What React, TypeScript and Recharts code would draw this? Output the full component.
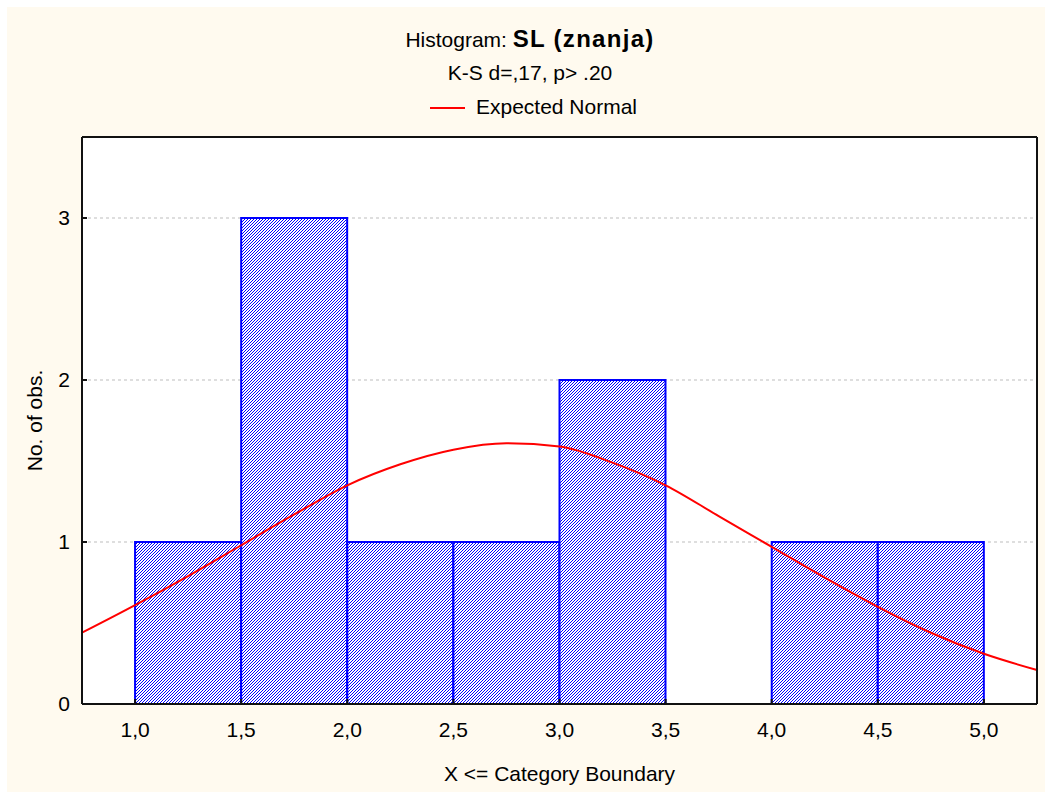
import React from 'react';
import { ComposedChart, Bar, Line, XAxis, YAxis, CartesianGrid } from 'recharts';

// histogram bins: boundaries and counts
const binEdges = [1.0, 1.5, 2.0, 2.5, 3.0, 3.5, 4.0, 4.5, 5.0];
const binCounts = [1, 3, 1, 1, 2, 0, 1, 1];

// expected normal curve
const normalX = [0.75, 1.0, 1.25, 1.5, 1.75, 2.0, 2.25, 2.5, 2.75, 3.0, 3.25, 3.5, 3.75, 4.0, 4.25, 4.5, 4.75, 5.0, 5.25];
const normalY = [0.44, 0.61, 0.79, 0.98, 1.17, 1.35, 1.48, 1.57, 1.61, 1.59, 1.49, 1.35, 1.16, 0.97, 0.78, 0.6, 0.44, 0.31, 0.21];

const xTicks = [1.0, 1.5, 2.0, 2.5, 3.0, 3.5, 4.0, 4.5, 5.0];
const yTicks = [0, 1, 2, 3];
const xDomain = [0.75, 5.25];
const yDomain = [0, 3.5];

const FONT = '"Liberation Sans", Arial, sans-serif';

const bins = binCounts.map((count, i) => ({
  mid: (binEdges[i] + binEdges[i + 1]) / 2,
  count,
}));
const curve = normalX.map((x, i) => ({ x, y: normalY[i] }));

const fmt = (v: number) => v.toFixed(1).replace('.', ',');
const tickStyle = { fill: '#000', fontSize: 21, fontFamily: FONT };

export default function App() {
  return (
    <div
      style={{
        position: 'absolute',
        left: 7,
        top: 7,
        width: 1038,
        height: 785,
        background: '#FFFAEF',
        fontFamily: FONT,
        color: '#000',
      }}
    >
      <div style={{ position: 'absolute', left: 0, top: 18, width: 1038, paddingLeft: 8, boxSizing: 'border-box', textAlign: 'center', lineHeight: '28px', fontSize: 21 }}>
        Histogram: <span style={{ fontWeight: 'bold', fontSize: 24, letterSpacing: 1.3 }}>SL (znanja)</span>
      </div>
      <div style={{ position: 'absolute', left: 0, top: 52, width: 1038, paddingLeft: 8, boxSizing: 'border-box', textAlign: 'center', lineHeight: '28px', fontSize: 21 }}>
        K-S d=,17, p&gt; .20
      </div>
      <div style={{ position: 'absolute', left: 0, top: 86, width: 1038, paddingLeft: 15, boxSizing: 'border-box', textAlign: 'center', lineHeight: '28px', fontSize: 21 }}>
        <svg width={35} height={4} style={{ marginRight: 11, verticalAlign: 'middle' }}>
          <line x1={0} y1={2} x2={35} y2={2} stroke="#FF0000" strokeWidth={2} />
        </svg>
        Expected Normal
      </div>

      <div style={{ position: 'absolute', left: 0, top: 0 }}>
        <ComposedChart
          width={1038}
          height={785}
          data={bins}
          margin={{ top: 130, right: 8, left: 0, bottom: 0 }}
          barCategoryGap={0}
          barGap={0}
        >
          <defs>
            <pattern id="hatch" patternUnits="userSpaceOnUse" width={3} height={3}>
              <rect width={3} height={3} fill="#fff" />
              <rect x={0} y={2} width={1} height={1} fill="#0000FF" />
              <rect x={1} y={1} width={1} height={1} fill="#0000FF" />
              <rect x={2} y={0} width={1} height={1} fill="#0000FF" />
            </pattern>
          </defs>
          <CartesianGrid
            vertical={false}
            stroke="#BDBDBD"
            strokeDasharray="3 3"
            fill="#fff"
            fillOpacity={1}
          />
          <XAxis
            dataKey="mid"
            type="number"
            domain={xDomain}
            ticks={xTicks}
            tickFormatter={fmt}
            height={88}
            tick={tickStyle}
            tickSize={-5}
            tickMargin={23}
            axisLine={{ stroke: '#111', strokeWidth: 2 }}
            tickLine={{ stroke: '#111', strokeWidth: 2 }}
            label={{
              content: ({ viewBox }: any) => (
                <text
                  x={viewBox.x + viewBox.width / 2}
                  y={viewBox.y + 69}
                  textAnchor="middle"
                  dominantBaseline="central"
                  fontSize={21}
                  fontFamily={FONT}
                  fill="#000"
                >
                  X &lt;= Category Boundary
                </text>
              ),
            }}
          />
          <XAxis
            xAxisId="top"
            dataKey="x"
            type="number"
            orientation="top"
            mirror
            domain={xDomain}
            ticks={xTicks}
            tick={false}
            tickSize={5}
            axisLine={{ stroke: '#111', strokeWidth: 2 }}
            tickLine={{ stroke: '#111', strokeWidth: 2 }}
          />
          <YAxis
            type="number"
            domain={yDomain}
            ticks={yTicks}
            width={75}
            tick={tickStyle}
            tickSize={-5}
            tickMargin={17}
            axisLine={{ stroke: '#111', strokeWidth: 2 }}
            tickLine={{ stroke: '#111', strokeWidth: 2 }}
            label={{
              content: ({ viewBox }: any) => {
                const cx = viewBox.x + 27;
                const cy = viewBox.y + viewBox.height / 2;
                return (
                  <text
                    x={cx}
                    y={cy}
                    transform={`rotate(-90, ${cx}, ${cy})`}
                    textAnchor="middle"
                    dominantBaseline="central"
                    fontSize={21}
                    fontFamily={FONT}
                    fill="#000"
                  >
                    No. of obs.
                  </text>
                );
              },
            }}
          />
          <YAxis
            yAxisId="right"
            type="number"
            orientation="right"
            mirror
            domain={yDomain}
            ticks={yTicks}
            tick={false}
            tickSize={5}
            axisLine={{ stroke: '#111', strokeWidth: 2 }}
            tickLine={{ stroke: '#111', strokeWidth: 2 }}
          />
          <Bar
            dataKey="count"
            fill="url(#hatch)"
            stroke="#0000FF"
            strokeWidth={2}
            isAnimationActive={false}
          />
          <Line
            xAxisId="top"
            data={curve}
            dataKey="y"
            type="monotone"
            stroke="#FF0000"
            strokeWidth={2}
            dot={false}
            activeDot={false}
            isAnimationActive={false}
          />
        </ComposedChart>
      </div>
    </div>
  );
}
